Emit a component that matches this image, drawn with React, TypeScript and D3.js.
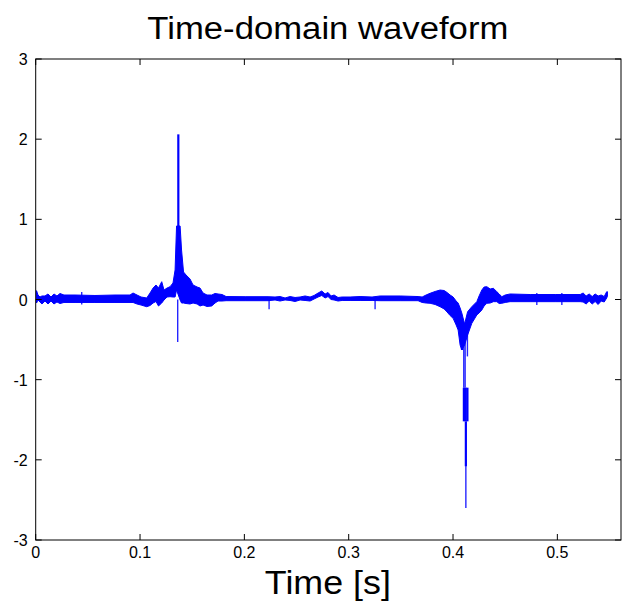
import React from "react";
import * as d3 from "d3";

// Envelope of the waveform (time in seconds, upper / lower amplitude)
const envTime = [
  0.0008, 0.0022, 0.0041, 0.006, 0.0089, 0.0118, 0.0147, 0.0175, 0.0204, 0.0233,
  0.0271, 0.0377, 0.0568, 0.076, 0.0904, 0.0933, 0.0971, 0.101, 0.1064, 0.1096,
  0.1125, 0.1153, 0.1177, 0.1208, 0.123, 0.1259, 0.1288, 0.1316, 0.1336, 0.135,
  0.1384, 0.1398, 0.1417, 0.1441, 0.1479, 0.1508, 0.1547, 0.1575, 0.1604, 0.1642,
  0.1687, 0.1719, 0.1748, 0.1786, 0.1825, 0.2007, 0.2227, 0.2294, 0.2342, 0.239,
  0.2438, 0.2486, 0.2534, 0.2582, 0.263, 0.2668, 0.2707, 0.2742, 0.2774, 0.2802,
  0.2831, 0.286, 0.2898, 0.2937, 0.3013, 0.3109, 0.3224, 0.3301, 0.3493, 0.3665,
  0.3704, 0.3742, 0.378, 0.3828, 0.3876, 0.3915, 0.3943, 0.3972, 0.4001, 0.403,
  0.4049, 0.4068, 0.4084, 0.4111, 0.414, 0.418, 0.4228, 0.425, 0.4276, 0.4298,
  0.4324, 0.4356, 0.4387, 0.442, 0.4442, 0.4468, 0.45, 0.4547, 0.4739, 0.4979,
  0.5219, 0.5247, 0.5276, 0.5305, 0.5334, 0.5362, 0.5391, 0.542, 0.5449, 0.5473,
  0.548,
];
const envUpper = [
  0.11, 0.056, 0.031, 0.044, 0.044, 0.069, 0.031, 0.069, 0.044, 0.075,
  0.056, 0.056, 0.05, 0.056, 0.056, 0.081, 0.056, 0.031, 0.019, 0.081,
  0.143, 0.181, 0.143, 0.222, 0.118, 0.143, 0.16, 0.206, 0.368, 0.917,
  0.917, 0.617, 0.343, 0.306, 0.256, 0.181, 0.156, 0.143, 0.081, 0.056,
  0.056, 0.075, 0.069, 0.062, 0.037, 0.035, 0.035, 0.031, 0.037, 0.019,
  0.037, 0.025, 0.031, 0.044, 0.031, 0.05, 0.081, 0.106, 0.069, 0.087,
  0.044, 0.056, 0.025, 0.031, 0.031, 0.037, 0.031, 0.044, 0.044, 0.037,
  0.031, 0.056, 0.077, 0.1, 0.118, 0.112, 0.087, 0.056, 0.031, -0.019,
  -0.044, -0.106, -0.168, -0.306, -0.152, -0.09, -0.027, 0.044, 0.118, 0.156,
  0.16, 0.131, 0.14, 0.097, 0.069, 0.035, 0.056, 0.069, 0.062, 0.062,
  0.062, 0.081, 0.044, 0.069, 0.037, 0.069, 0.044, 0.056, 0.037, 0.097,
  0.097,
];
const envLower = [
  -0.044, -0.006, -0.031, -0.056, -0.019, -0.056, -0.019, -0.056, -0.031, -0.05,
  -0.037, -0.037, -0.037, -0.037, -0.037, -0.037, -0.056, -0.069, -0.09, -0.075,
  -0.044, -0.025, -0.081, -0.044, -0.006, 0.031, 0.035, 0.031, 0.031, 0.118,
  -0.006, -0.044, -0.044, -0.05, -0.056, -0.044, -0.056, -0.081, -0.069, -0.087,
  -0.081, -0.044, -0.019, -0.019, -0.015, -0.015, -0.015, -0.006, -0.019, -0.006,
  -0.012, -0.025, -0.006, -0.012, -0.019, 0.006, 0.031, 0.05, 0.019, 0.037,
  0.0, -0.006, -0.019, -0.012, -0.012, -0.012, -0.012, -0.015, -0.015, -0.015,
  -0.037, -0.044, -0.047, -0.062, -0.09, -0.118, -0.156, -0.2, -0.235, -0.318,
  -0.38, -0.568, -0.63, -0.568, -0.443, -0.297, -0.193, -0.168, -0.131, -0.081,
  -0.047, -0.044, -0.027, -0.027, -0.05, -0.047, -0.037, -0.027, -0.027, -0.027,
  -0.027, -0.031, -0.056, -0.019, -0.056, -0.025, -0.062, -0.019, -0.031, 0.019,
  0.044,
];

// Narrow spikes (time, top, bottom)
const thickSpikeTime = [0.1367, 0.4086, 0.4104, 0.4122, 0.4138, 0.4123];
const thickSpikeTop = [2.06, -0.3, -1.1, -1.1, -1.1, -1.52];
const thickSpikeBottom = [0.8, -0.63, -1.52, -1.52, -1.52, -2.08];

const thinSpikeTime = [0.0441, 0.1361, 0.2237, 0.3253, 0.4103, 0.4116, 0.4138, 0.4123, 0.4803, 0.5043];
const thinSpikeTop = [0.094, 0.0, 0.0, 0.0, -0.3, -0.3, -0.3, -2.0, 0.08, 0.08];
const thinSpikeBottom = [-0.062, -0.53, -0.122, -0.122, -1.1, -1.1, -0.71, -2.6, -0.07, -0.07];

const xTicks = [0, 0.1, 0.2, 0.3, 0.4, 0.5];
const xTickLabels = ["0", "0.1", "0.2", "0.3", "0.4", "0.5"];
const yTicks = [-3, -2, -1, 0, 1, 2, 3];
const yTickLabels = ["-3", "-2", "-1", "0", "1", "2", "3"];

const titleText = "Time-domain waveform";
const xLabelText = "Time [s]";

const W = 626;
const H = 611;
const M = { left: 35.7, right: 621, top: 59, bottom: 540 };
const FONT = "'Liberation Sans', Arial, Helvetica, sans-serif";
const BLUE = "#0000ff";

export default function App() {
  const x = d3.scaleLinear().domain([0, 0.561]).range([M.left, M.right]);
  const y = d3.scaleLinear().domain([-3, 3]).range([M.bottom, M.top]);

  const idx = envTime.map((_, i) => i);
  const area = d3
    .area<number>()
    .x((i) => x(envTime[i]))
    .y0((i) => y(envLower[i]))
    .y1((i) => y(envUpper[i]))
    .curve(d3.curveLinear)(idx) as string;

  const tick = 6;

  return (
    <svg
      width={W}
      height={H}
      style={{ position: "absolute", left: 0, top: 0, background: "#fff" }}
    >
      <rect x={0} y={0} width={W} height={H} fill="#fff" />
      {/* waveform */}
      <path d={area} fill={BLUE} stroke={BLUE} strokeWidth={1} strokeLinejoin="round" />
      {thickSpikeTime.map((t, i) => (
        <line
          key={"tk" + i}
          x1={x(t)}
          x2={x(t)}
          y1={y(thickSpikeTop[i])}
          y2={y(thickSpikeBottom[i])}
          stroke={BLUE}
          strokeWidth={2.2}
        />
      ))}
      {thinSpikeTime.map((t, i) => (
        <line
          key={"tn" + i}
          x1={x(t)}
          x2={x(t)}
          y1={y(thinSpikeTop[i])}
          y2={y(thinSpikeBottom[i])}
          stroke={BLUE}
          strokeOpacity={0.85}
          strokeWidth={1.4}
        />
      ))}

      {/* box */}
      <rect
        x={M.left}
        y={M.top}
        width={M.right - M.left}
        height={M.bottom - M.top}
        fill="none"
        stroke="#000"
        strokeWidth={1}
      />
      {/* x ticks */}
      {xTicks.map((t, i) => (
        <g key={"xt" + i}>
          <line x1={x(t)} x2={x(t)} y1={M.bottom} y2={M.bottom - tick} stroke="#000" />
          <line x1={x(t)} x2={x(t)} y1={M.top} y2={M.top + tick} stroke="#000" />
          <text
            x={x(t)}
            y={M.bottom + 18}
            textAnchor="middle"
            fontFamily={FONT}
            fontSize={16}
            fill="#000"
          >
            {xTickLabels[i]}
          </text>
        </g>
      ))}
      {/* y ticks */}
      {yTicks.map((v, i) => (
        <g key={"yt" + i}>
          <line x1={M.left} x2={M.left + tick} y1={y(v)} y2={y(v)} stroke="#000" />
          <line x1={M.right} x2={M.right - tick} y1={y(v)} y2={y(v)} stroke="#000" />
          <text
            x={M.left - 8}
            y={y(v) + 6}
            textAnchor="end"
            fontFamily={FONT}
            fontSize={16}
            fill="#000"
          >
            {yTickLabels[i]}
          </text>
        </g>
      ))}

      {/* title */}
      <text
        x={(M.left + M.right) / 2 - 0.5}
        y={39}
        textAnchor="middle"
        fontFamily={FONT}
        fontSize={31}
        textLength={361}
        lengthAdjust="spacingAndGlyphs"
        fill="#000"
      >
        {titleText}
      </text>
      {/* x label */}
      <text
        x={(M.left + M.right) / 2 - 0.5}
        y={594}
        textAnchor="middle"
        fontFamily={FONT}
        fontSize={33}
        textLength={126}
        lengthAdjust="spacingAndGlyphs"
        fill="#000"
      >
        {xLabelText}
      </text>
    </svg>
  );
}
